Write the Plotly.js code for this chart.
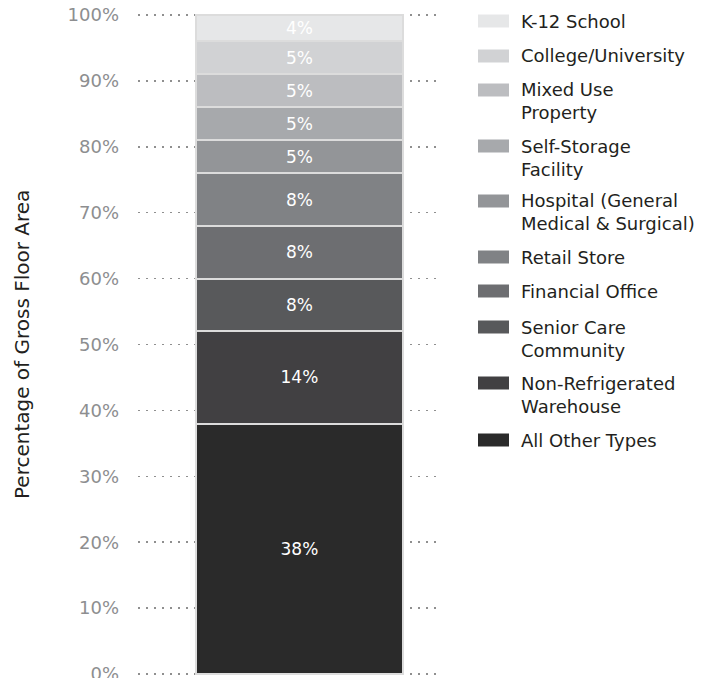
<!DOCTYPE html>
<html>
<head>
<meta charset="utf-8">
<script src="https://cdn.plot.ly/plotly-3.0.1.min.js"></script>
<style>html,body{margin:0;padding:0;background:#fff;}#chart{width:718px;height:678px;}</style>
</head>
<body>
<div id="chart"></div>
<script>
// Data (bottom of stack first)
var categories = ["All Other Types", "Non-Refrigerated<br>Warehouse", "Senior Care<br>Community", "Financial Office", "Retail Store", "Hospital (General<br>Medical & Surgical)", "Self-Storage<br>Facility", "Mixed Use<br>Property", "College/University", "K-12 School"];
var values = [38, 14, 8, 8, 8, 5, 5, 5, 5, 4];
var colors = ["#2a2a2a", "#414042", "#58595b", "#6d6e71", "#808285", "#939598", "#a7a9ac", "#bcbdc0", "#d1d2d4", "#e6e7e8"];
var tickVals = [0, 10, 20, 30, 40, 50, 60, 70, 80, 90, 100];
var tickText = ["0%", "10%", "20%", "30%", "40%", "50%", "60%", "70%", "80%", "90%", "100%"];

var FONT = "DejaVu Sans, sans-serif";
var W = 718, H = 678, mL = 138, mR = 277, mT = 13, mB = 2;
var pw = W - mL - mR, ph = H - mT - mB;
function px2x(px) { return (px - mL) / pw; }
function py2y(py) { return (H - mB - py) / ph; }

var traces = categories.map(function (c, i) {
  return {
    type: "bar",
    x: [0],
    y: [values[i]],
    width: 1,
    name: c,
    marker: { color: colors[i], line: { color: "#dcdcdc", width: 2 } },
    text: [values[i] + "%"],
    textposition: "inside",
    insidetextanchor: "middle",
    textfont: { color: "#ffffff", size: 17, family: FONT },
    hoverinfo: "none",
    showlegend: false
  };
});

// legend built from categories/colors
var legendCenters = [440, 383, 327, 291, 257, 201, 146, 90, 56, 21]; // layout positions (px) per entry
var shapes = [], annotations = [];
categories.forEach(function (c, i) {
  var cy = legendCenters[i];
  shapes.push({ type: "rect", xref: "paper", yref: "paper",
    x0: px2x(478), x1: px2x(509), y0: py2y(cy + 6.5), y1: py2y(cy - 6.5),
    fillcolor: colors[i], line: { width: 0 } });
  annotations.push({ xref: "paper", yref: "paper", x: px2x(519), y: py2y(cy - 12.5),
    xanchor: "left", yanchor: "top", align: "left", showarrow: false,
    text: c, font: { family: FONT, size: 18, color: "#231f20" } });
});
annotations.push({ xref: "paper", yref: "paper", x: px2x(22), y: py2y(345),
  xanchor: "center", yanchor: "middle", textangle: -90, showarrow: false,
  text: "Percentage of Gross Floor Area", font: { family: FONT, size: 20, color: "#231f20" } });

var layout = {
  width: W, height: H,
  margin: { l: mL, r: mR, t: mT, b: mB },
  paper_bgcolor: "#ffffff", plot_bgcolor: "#ffffff",
  barmode: "stack",
  showlegend: false,
  xaxis: { range: [-0.78, 0.684], showgrid: false, zeroline: false, showticklabels: false, fixedrange: true },
  yaxis: { range: [-0.3, 100.3], tickvals: tickVals, ticktext: tickText,
    showgrid: true, gridcolor: "#8f8f8f", gridwidth: 1.5, griddash: "2px,6px",
    zeroline: false, showline: false, ticks: "", ticklabelstandoff: 18,
    ticklabeloverflow: "allow",
    tickfont: { family: FONT, size: 18, color: "#8d8e90" } },
  shapes: shapes,
  annotations: annotations
};

Plotly.newPlot("chart", traces, layout, { displayModeBar: false, staticPlot: true });
</script>
</body>
</html>
